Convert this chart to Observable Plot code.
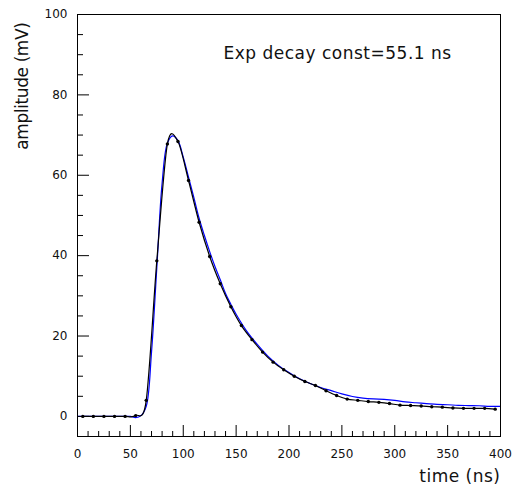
<!DOCTYPE html>
<html><head><meta charset="utf-8">
<script src="https://cdn.jsdelivr.net/npm/d3@7"></script>
<script src="https://cdn.jsdelivr.net/npm/@observablehq/plot@0.6"></script>
<style>body{margin:0;background:#fff}</style>
</head><body><div id="chart"></div>
<script>
// measured pulse (black points)
const dataTimes = [5,15,25,35,45,55,65,75,85,95,105,115,125,135,145,155,165,175,185,195,205,215,225,235,245,255,265,275,285,295,305,315,325,335,345,355,365,375,385,395];
const dataAmps  = [0,0,0,0,0,0.2,4.0,38.7,67.8,68.4,58.7,48.3,39.8,33.0,27.3,22.6,19.1,16.0,13.5,11.6,10.0,8.7,7.7,6.4,5.2,4.3,4.0,3.7,3.5,3.2,2.8,2.7,2.6,2.4,2.3,2.1,2.0,2.0,2.0,1.8];
// fitted curve (blue)
const fitTimes = [0,10,20,30,40,50,55,60,65,70,75,80,85,90,95,100,105,110,115,120,125,130,135,140,145,150,160,170,180,190,200,210,220,230,240,250,260,270,280,290,300,310,320,330,340,350,360,370,380,390,400];
const fitAmps  = [0,0,0,0,0,0,-0.3,0.2,2.5,16,37,58,68,69.8,68.6,64.5,59.5,54.5,49.3,45,41,37.3,34,30.6,27.9,25.4,21.2,17.9,15.0,12.7,10.9,9.35,8.2,7.2,6.4,5.6,4.95,4.55,4.35,4.25,4.0,3.6,3.4,3.2,3.0,2.9,2.75,2.7,2.65,2.5,2.5];
// axes
const xMajorTicks = [0,50,100,150,200,250,300,350,400];
const xMinorTicks = [10,20,30,40,60,70,80,90,110,120,130,140,160,170,180,190,210,220,230,240,260,270,280,290,310,320,330,340,360,370,380,390];
const yMajorTicks = [0,20,40,60,80,100];
const yMinorTicks = [5,10,15,25,30,35,45,50,55,65,70,75,85,90,95];
const titleText = "Exp decay const=55.1 ns";
const xLabel = "time (ns)";
const yLabel = "amplitude (mV)";

const measured = dataTimes.map((t, i) => ({t, a: dataAmps[i]}));
const fit = fitTimes.map((t, i) => ({t, a: fitAmps[i]}));

const W = 513, H = 487, mL = 77, mR = 13, mT = 14, mB = 51;
const innerW = W - mL - mR, innerH = H - mT - mB;

const chart = Plot.plot({
  width: W, height: H,
  marginLeft: mL, marginRight: mR, marginTop: mT, marginBottom: mB,
  style: {fontFamily: "DejaVu Sans", fontSize: "12px", background: "white", color: "black"},
  x: {domain: [0, 400], axis: null},
  y: {domain: [-5, 100], axis: null},
  marks: [
    Plot.line(fit, {x: "t", y: "a", stroke: "#0000ff", strokeWidth: 1.2, curve: "catmull-rom"}),
    Plot.line(measured, {x: "t", y: "a", stroke: "black", strokeWidth: 1.2, curve: "cardinal", tension: 0.1}),
    Plot.dot(measured, {x: "t", y: "a", r: 1.7, fill: "black"}),
    Plot.tickX(xMajorTicks, {x: d => d, stroke: "black", insetTop: innerH - 11}),
    Plot.tickX(xMinorTicks, {x: d => d, stroke: "black", insetTop: innerH - 5}),
    Plot.tickY(yMajorTicks, {y: d => d, stroke: "black", insetRight: innerW - 12}),
    Plot.tickY(yMinorTicks, {y: d => d, stroke: "black", insetRight: innerW - 6}),
    Plot.axisX(xMajorTicks, {tickSize: 0, tickPadding: 13, label: null, fill: "#111"}),
    Plot.axisY(yMajorTicks, {tickSize: 0, tickPadding: 10, label: null, fill: "#111"}),
    Plot.frame({stroke: "black", strokeWidth: 1}),
    Plot.text([titleText], {frameAnchor: "top-left", dx: 146, dy: 39, textAnchor: "start", lineAnchor: "middle", fontSize: 17, fill: "#111"}),
    Plot.text([xLabel], {frameAnchor: "bottom-right", dy: 40, textAnchor: "end", lineAnchor: "middle", fontSize: 17, fill: "#111"}),
    Plot.text([yLabel], {frameAnchor: "top-left", rotate: -90, dx: -55, dy: 8, textAnchor: "end", lineAnchor: "middle", fontSize: 17, fill: "#111"})
  ]
});
document.getElementById("chart").appendChild(chart);
chart.querySelectorAll("text").forEach(t => {
  const s = t.textContent;
  if (s === titleText || s === xLabel) t.setAttribute("letter-spacing", "0.5");
  if (s === yLabel) t.setAttribute("letter-spacing", "-0.4");
});
</script>
</body></html>
